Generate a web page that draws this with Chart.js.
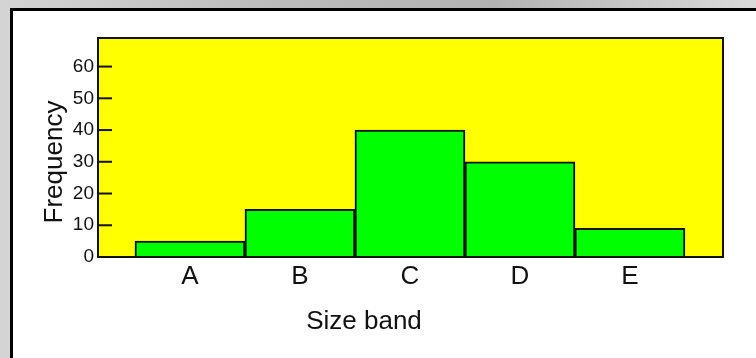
<!DOCTYPE html>
<html>
	<head>
		<title>Size band</title>
		<script src="https://cdn.jsdelivr.net/npm/chart.js@4.4.0/dist/chart.umd.min.js"></script>
		<style>
			html, body { margin: 0; padding: 0; }
			body {
				width: 756px; height: 358px; overflow: hidden; position: relative;
				background: linear-gradient(to right, #d4d4d4 0%, #bcbcbc 35%, #b2b2b2 65%, #dadada 100%);
			}
			#panel {
				position: absolute; left: 10px; top: 8px; right: 0; bottom: 0;
				background: #fff; border-left: 3px solid #000; border-top: 3px solid #000;
			}
			#wrap { position: absolute; left: 0; top: 0; width: 756px; height: 358px; }
		</style>
	</head>
	<body>
		<div id="panel"></div>
		<div id="wrap"><canvas id="myChart" width="756" height="358"></canvas></div>
		<script>
			// dane
			const categories = ['A', 'B', 'C', 'D', 'E'];
			const frequencies = [5, 15, 40, 30, 9];
			const yTicks = [0, 10, 20, 30, 40, 50, 60];
			const xTitle = 'Size band';
			const yTitle = 'Frequency';

			// tlo, ramka i kreski na osi y
			const plotFrame = {
				id: 'plotFrame',
				beforeDatasetsDraw(chart) {
					const {ctx, chartArea: a} = chart;
					ctx.save();
					ctx.fillStyle = '#ffff00';
					ctx.fillRect(a.left, a.top, a.right - a.left, a.bottom - a.top);
					ctx.restore();
				},
				afterDraw(chart) {
					const {ctx, chartArea: a} = chart;
					const y = chart.scales.y;
					ctx.save();
					ctx.strokeStyle = '#111';
					ctx.lineWidth = 2;
					ctx.strokeRect(a.left, a.top, a.right - a.left, a.bottom - a.top);
					yTicks.forEach(v => {
						const py = y.getPixelForValue(v);
						ctx.beginPath();
						ctx.moveTo(a.left, py);
						ctx.lineTo(a.left + 14, py);
						ctx.stroke();
					});
					// tytuly osi
					ctx.fillStyle = '#111';
					ctx.font = '26px "Liberation Sans", Arial, sans-serif';
					ctx.textAlign = 'center';
					ctx.textBaseline = 'middle';
					ctx.fillText(xTitle, 364, 322);
					ctx.translate(55, 162);
					ctx.rotate(-Math.PI / 2);
					ctx.fillText(yTitle, 0, 0);
					ctx.restore();
				}
			};

			const ctx = document.getElementById('myChart').getContext('2d');
			const chart = new Chart(ctx, {
				type: 'bar',
				data: {
					datasets: [{
						data: frequencies.map((v, i) => ({x: i, y: v})),
						backgroundColor: '#00ff00',
						borderColor: '#111',
						borderWidth: 2,
						barPercentage: 1,
						categoryPercentage: 1
					}]
				},
				options: {
					responsive: false,
					animation: false,
					layout: { padding: { left: 0, top: 38, right: 33, bottom: 0 } },
					plugins: { legend: { display: false }, tooltip: { enabled: false } },
					scales: {
						x: {
							type: 'linear',
							offset: false,
							min: -0.836,
							max: 4.846,
							grid: { display: false, drawTicks: false, offset: false },
							border: { display: false },
							afterBuildTicks: s => { s.ticks = categories.map((c, i) => ({value: i})); },
							afterFit: s => { s.height = 101; },
							ticks: {
								padding: 4,
								color: '#111',
								font: { family: '"Liberation Sans", Arial, sans-serif', size: 26 },
								callback: v => categories[v]
							}
						},
						y: {
							min: 0,
							max: 69,
							grid: { display: false, drawTicks: false },
							border: { display: false },
							afterBuildTicks: s => { s.ticks = yTicks.map(v => ({value: v})); },
							afterFit: s => { s.width = 98; },
							ticks: {
								padding: 4,
								color: '#111',
								font: { family: '"Liberation Sans", Arial, sans-serif', size: 19 }
							}
						}
					}
				},
				plugins: [plotFrame]
			});
		</script>
	</body>
</html>
